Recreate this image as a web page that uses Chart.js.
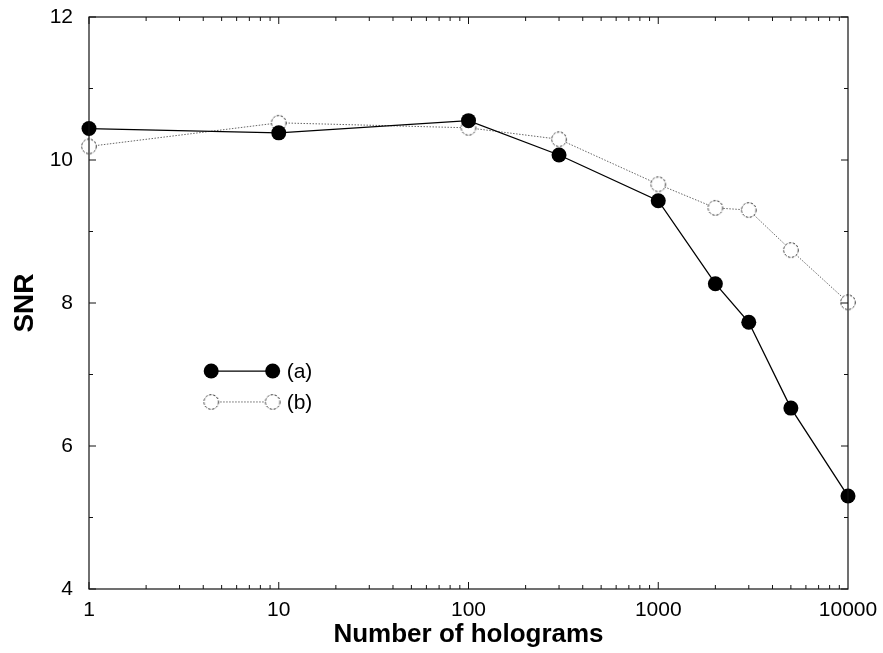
<!DOCTYPE html>
<html>
<head>
<meta charset="utf-8">
<script src="https://cdn.jsdelivr.net/npm/chart.js@4.4.1/dist/chart.umd.min.js"></script>
<style>
  html, body { margin: 0; padding: 0; background: #fff; }
  #wrap { width: 883px; height: 653px; }
</style>
</head>
<body>
<div id="wrap"><canvas id="myChart" width="883" height="653"></canvas></div>
<script>
// values
var holograms = [1, 10, 100, 300, 1000, 2000, 3000, 5000, 10000];
var snrA = [10.44, 10.38, 10.55, 10.07, 9.43, 8.27, 7.73, 6.53, 5.30];
var snrB = [10.19, 10.52, 10.45, 10.29, 9.66, 9.33, 9.30, 8.74, 8.01];
var xTicks = [1, 10, 100, 1000, 10000];
var yTicks = [4, 6, 8, 10, 12];

var FONT = '"Liberation Sans", Arial, Helvetica, sans-serif';

// open dashed circle marker for series (b)
function makeOpenCircle() {
    var c = document.createElement('canvas');
    c.width = 18; c.height = 18;
    var g = c.getContext('2d');
    g.fillStyle = '#fff';
    g.beginPath();
    g.arc(9, 9, 7.3, 0, Math.PI * 2);
    g.fill();
    g.strokeStyle = '#333';
    g.lineWidth = 1;
    g.setLineDash([2.5, 1.5]);
    g.stroke();
    return c;
}
var openCircle = makeOpenCircle();

// frame with inward ticks on all four sides
var framePlugin = {
    id: 'frame',
    afterDatasetsDraw: function (chart) {
        var ctx = chart.ctx;
        var a = chart.chartArea;
        var xs = chart.scales.x, ys = chart.scales.y;
        ctx.save();
        ctx.strokeStyle = '#111';
        ctx.lineWidth = 1.2;
        ctx.strokeRect(a.left, a.top, a.right - a.left, a.bottom - a.top);
        ctx.lineWidth = 1;
        ctx.beginPath();
        // x ticks (log decades + minors)
        for (var d = 1; d < 10000; d *= 10) {
            for (var m = 1; m < 10; m++) {
                var px = xs.getPixelForValue(d * m);
                var len = m === 1 ? 7 : 4;
                ctx.moveTo(px, a.bottom); ctx.lineTo(px, a.bottom - len);
                ctx.moveTo(px, a.top); ctx.lineTo(px, a.top + len);
            }
        }
        // y ticks
        for (var v = 4; v <= 12; v++) {
            var py = ys.getPixelForValue(v);
            var l = v % 2 === 0 ? 7 : 4;
            ctx.moveTo(a.left, py); ctx.lineTo(a.left + l, py);
            ctx.moveTo(a.right, py); ctx.lineTo(a.right - l, py);
        }
        ctx.stroke();
        ctx.restore();
    }
};

// legend drawn inside the plot area
var innerLegend = {
    id: 'innerLegend',
    afterDraw: function (chart) {
        var ctx = chart.ctx;
        var a = chart.chartArea;
        var w = a.right - a.left, h = a.bottom - a.top;
        var x1 = a.left + 0.161 * w, x2 = a.left + 0.242 * w;
        var rows = [
            { y: a.top + 0.619 * h, label: '(a)', filled: true },
            { y: a.top + 0.673 * h, label: '(b)', filled: false }
        ];
        ctx.save();
        rows.forEach(function (r) {
            ctx.beginPath();
            if (r.filled) {
                ctx.strokeStyle = '#000'; ctx.lineWidth = 1.3; ctx.setLineDash([]);
            } else {
                ctx.strokeStyle = '#666'; ctx.lineWidth = 1; ctx.setLineDash([1.5, 1.5]);
            }
            ctx.moveTo(x1, r.y); ctx.lineTo(x2, r.y);
            ctx.stroke();
            ctx.setLineDash([]);
            [x1, x2].forEach(function (px) {
                if (r.filled) {
                    ctx.fillStyle = '#000';
                    ctx.beginPath(); ctx.arc(px, r.y, 7.5, 0, Math.PI * 2); ctx.fill();
                } else {
                    ctx.drawImage(openCircle, px - 9, r.y - 9);
                }
            });
            ctx.fillStyle = '#000';
            ctx.font = '21px ' + FONT;
            ctx.textBaseline = 'middle';
            ctx.textAlign = 'left';
            ctx.fillText(r.label, x2 + 14, r.y + 1);
        });
        ctx.restore();
    }
};

var ctx = document.getElementById('myChart').getContext('2d');
var myChart = new Chart(ctx, {
    type: 'line',
    data: {
        datasets: [
            {
                label: '(a)',
                data: holograms.map(function (x, i) { return { x: x, y: snrA[i] }; }),
                borderColor: '#000',
                borderWidth: 1.3,
                backgroundColor: '#000',
                pointRadius: 7.5,
                pointHoverRadius: 7.5,
                pointBorderWidth: 0,
                tension: 0,
                clip: false,
                order: 1
            },
            {
                label: '(b)',
                data: holograms.map(function (x, i) { return { x: x, y: snrB[i] }; }),
                borderColor: '#666',
                borderWidth: 1,
                borderDash: [1.5, 1.5],
                pointStyle: openCircle,
                pointRadius: 9,
                tension: 0,
                clip: false,
                order: 2
            }
        ]
    },
    options: {
        responsive: false,
        devicePixelRatio: 1,
        animation: false,
        layout: { padding: { top: 17, right: 35, left: 0, bottom: 0 } },
        plugins: {
            legend: { display: false },
            tooltip: { enabled: false }
        },
        scales: {
            x: {
                type: 'logarithmic',
                min: 1,
                max: 10000,
                afterBuildTicks: function (scale) {
                    scale.ticks = xTicks.map(function (v) { return { value: v }; });
                },
                afterFit: function (scale) {
                    scale.height = 64;
                    scale.paddingLeft = 0;
                    scale.paddingRight = 0;
                },
                grid: { display: false, drawTicks: false },
                border: { display: false },
                ticks: {
                    color: '#000',
                    font: { family: FONT, size: 21 },
                    padding: 9,
                    maxRotation: 0,
                    autoSkip: false,
                    callback: function (v) { return String(v); }
                },
                title: {
                    display: true,
                    text: 'Number of holograms',
                    color: '#000',
                    font: { family: FONT, size: 26, weight: 'bold' },
                    padding: { top: 0, bottom: 3 }
                }
            },
            y: {
                min: 4,
                max: 12,
                afterBuildTicks: function (scale) {
                    scale.ticks = yTicks.map(function (v) { return { value: v }; });
                },
                afterFit: function (scale) {
                    scale.width = 89;
                    scale.paddingTop = 0;
                    scale.paddingBottom = 0;
                },
                grid: { display: false, drawTicks: false },
                border: { display: false },
                ticks: {
                    color: '#000',
                    font: { family: FONT, size: 21 },
                    padding: 16
                },
                title: {
                    display: true,
                    text: 'SNR',
                    color: '#000',
                    font: { family: FONT, size: 28, weight: 'bold' },
                    padding: { top: 8, bottom: 0 }
                }
            }
        }
    },
    plugins: [framePlugin, innerLegend]
});
</script>
</body>
</html>
